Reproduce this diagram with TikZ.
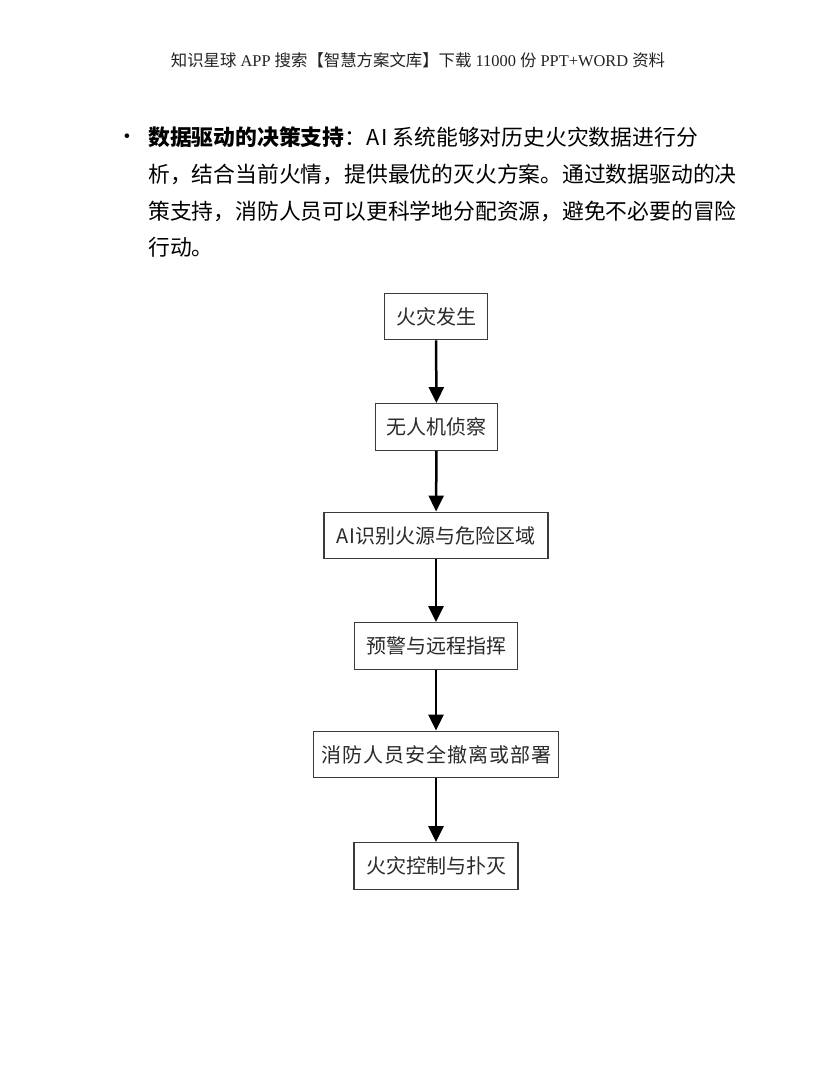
\documentclass[tikz,border=0pt]{standalone}
\usepackage{fontspec}
\usetikzlibrary{arrows.meta}
\newfontfamily\cjk{Noto Sans CJK SC}
\newfontfamily\cjkwide{Noto Sans CJK SC}[LetterSpace=5]
\newfontfamily\latserif{Liberation Serif}
\definecolor{boxline}{HTML}{3A3A3A}
\definecolor{boxtext}{HTML}{2A2A2A}
\definecolor{headtext}{HTML}{222222}
\begin{document}
\begin{tikzpicture}[x=1pt,y=-1pt,
  flowbox/.style={draw=boxline,line width=1.4pt,fill=white,inner sep=0pt,
    minimum height=46.5pt,font=\cjk\fontsize{20}{24}\selectfont,text=boxtext},
  flowarrow/.style={line width=2.5pt,black,-{Triangle[width=15pt,length=16pt]}},
  bodyline/.style={anchor=base west,inner sep=0pt,font=\cjk\fontsize{21.8}{26}\selectfont,text=black}]
\useasboundingbox (0,0) rectangle (835,1080);
\fill[white] (0,0) rectangle (835,1080);
% header
\node[inner sep=0pt,text=headtext,font=\cjk\fontsize{16.4}{19}\selectfont] (header) at (418,60)
  {知识星球{\latserif\ APP }搜索【智慧方案文库】下载{\latserif\ 11000 }份{\latserif\ PPT+WORD }资料};
% bullet paragraph
\node[inner sep=0pt,font=\cjk\fontsize{21.8}{26}\selectfont] (bullet) at (127,139) {•};
\node[bodyline] (l1) at (148,145) {{\bfseries 数据驱动的决策支持}：A\kern2pt I\ 系统能够对历史火灾数据进行分};
\node[bodyline] (l2) at (148,182) {析，结合当前火情，提供最优的灭火方案。通过数据驱动的决};
\node[bodyline] (l3) at (148,219) {策支持，消防人员可以更科学地分配资源，避免不必要的冒险};
\node[bodyline] (l4) at (148,255) {行动。};
% flow boxes
\node[flowbox,minimum width=103pt] (b1) at (436,316.5) {火灾发生};
\node[flowbox,minimum width=122pt] (b2) at (436.5,427) {无人机侦察};
\node[flowbox,minimum width=224pt] (b3) at (436,535.5) {AI识别火源与危险区域};
\node[flowbox,minimum width=163pt] (b4) at (436,646) {预警与远程指挥};
\node[flowbox,minimum width=245pt,font=\cjkwide\fontsize{20}{24}\selectfont] (b5) at (436,754.5) {消防人员安全撤离或部署};
\node[flowbox,minimum width=164pt] (b6) at (436,866) {火灾控制与扑灭};
\draw[flowarrow] (b1) -- (b2);
\draw[flowarrow] (b2) -- (b3);
\draw[flowarrow] (b3) -- (b4);
\draw[flowarrow] (b4) -- (b5);
\draw[flowarrow] (b5) -- (b6);
\end{tikzpicture}
\end{document}
